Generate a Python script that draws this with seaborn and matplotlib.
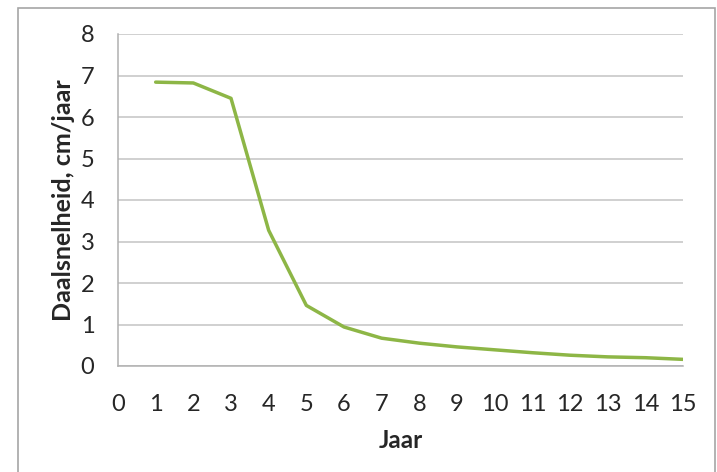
import matplotlib
matplotlib.use('Agg')
import matplotlib.pyplot as plt
import seaborn as sns
import pandas as pd
from matplotlib.patches import Rectangle

# Daalsnelheid per jaar
jaar = [1, 2, 3, 4, 5, 6, 7, 8, 9, 10, 11, 12, 13, 14, 15]
daalsnelheid = [6.84, 6.82, 6.45, 3.27, 1.46, 0.94, 0.67, 0.55, 0.46, 0.39, 0.32, 0.26, 0.22, 0.20, 0.16]
x_ticks = list(range(0, 16))
y_ticks = list(range(0, 9))

df = pd.DataFrame({'Jaar': jaar, 'Daalsnelheid': daalsnelheid})

sns.set_style('white')
plt.rcParams['font.family'] = ['Lato', 'DejaVu Sans']

fig = plt.figure(figsize=(7.17, 4.72), dpi=100)
ax = fig.add_axes([118 / 717, 106 / 472, 565 / 717, 332 / 472])

# outer chart frame
fig.patches.append(Rectangle((18 / 717, -0.05), 697 / 717, 1.05 - 8 / 472,
                             transform=fig.transFigure, fill=False,
                             edgecolor='#a6a6a6', linewidth=1.2))

sns.lineplot(data=df, x='Jaar', y='Daalsnelheid', color='#8db646', linewidth=2.5, ax=ax)

ax.set_xlim(0, 15)
ax.set_ylim(0, 8)
ax.set_xticks(x_ticks)
ax.set_yticks(y_ticks)
ax.grid(axis='y', color='#c4c4c4', linewidth=1.1)
ax.set_axisbelow(True)
for side in ['top', 'right']:
    ax.spines[side].set_visible(False)
for side in ['left', 'bottom']:
    ax.spines[side].set_color('#b0b0b0')
    ax.spines[side].set_linewidth(1.1)
ax.tick_params(axis='x', direction='in', length=5, width=1, color='#b0b0b0',
               labelsize=17, pad=20)
ax.tick_params(axis='y', length=0, labelsize=17, pad=17)
ax.set_xlabel('Jaar', fontsize=17.5, fontweight='bold', labelpad=10)
ax.set_ylabel('Daalsnelheid, cm/jaar', fontsize=18, fontweight='bold', labelpad=4)

fig.savefig('out.png', dpi=100)
